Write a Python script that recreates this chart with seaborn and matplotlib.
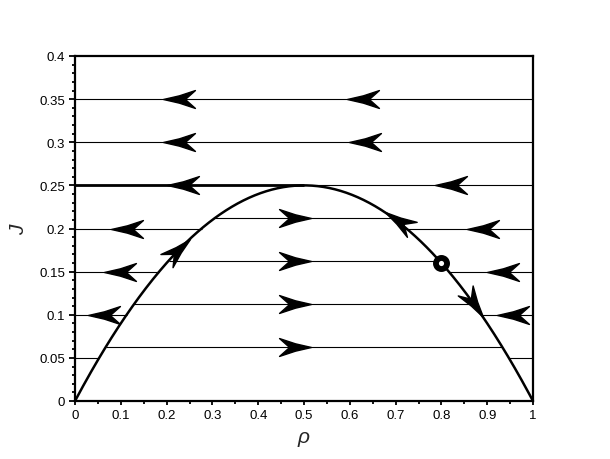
import numpy as np
import matplotlib
matplotlib.use("Agg")
import matplotlib.pyplot as plt
import seaborn as sns
from matplotlib.path import Path
from matplotlib.markers import MarkerStyle
from matplotlib.transforms import Affine2D
from matplotlib.ticker import MultipleLocator

# fundamental diagram J = rho(1-rho)
rho = np.linspace(0, 1, 401)
flux = rho * (1 - rho)

# flux levels outside the parabola (left + right pieces, flow to the left)
outer_J = [0.05, 0.1, 0.15, 0.2]
outer_tip_left = [None, 0.028, 0.063, 0.079]
outer_tip_right = [None, 0.921, 0.900, 0.856]
# flux levels above the maximum (whole width, flow to the left)
full_J = [0.25, 0.3, 0.35]
full_tips = [[0.201, 0.786], [0.192, 0.598], [0.192, 0.594]]
# flux levels inside the parabola (flow to the right)
inner_J = [0.0625, 0.1125, 0.1625, 0.2125]
inner_tip = 0.515
# arrows along the curve: (rho at tip, direction in rho)
curve_tips = [(0.251, 1), (0.677, -1), (0.891, 1)]
fixed_rho, fixed_J = 0.8, 0.16

xticks = [0, 0.1, 0.2, 0.3, 0.4, 0.5, 0.6, 0.7, 0.8, 0.9, 1]
xlabels = ["0", "0.1", "0.2", "0.3", "0.4", "0.5", "0.6", "0.7", "0.8", "0.9", "1"]
yticks = [0, 0.05, 0.1, 0.15, 0.2, 0.25, 0.3, 0.35, 0.4]
ylabels = ["0", "0.05", "0.1", "0.15", "0.2", "0.25", "0.3", "0.35", "0.4"]

sns.set_style("ticks")
plt.rcParams['font.family'] = ['Liberation Sans', 'DejaVu Sans']

fig = plt.figure(figsize=(6.1, 4.6), dpi=100)
ax = fig.add_axes([75 / 610, 1 - 402 / 460, 458 / 610, 345 / 460])
ax.set_xlim(0, 1)
ax.set_ylim(0, 0.4)

# arrow head shape, tip at origin, pointing +x
verts = [(0, 0), (-1.0, 0.23), (-2, 0.56), (-1.37, 0), (-2, -0.56), (-1.0, -0.23), (0, 0)]
codes = [Path.MOVETO] + [Path.LINETO] * 5 + [Path.CLOSEPOLY]
head = Path(verts, codes)


def arrow(x, y, angle):
    m = MarkerStyle(head, transform=Affine2D().rotate_deg(angle))
    ax.plot([x], [y], marker=m, markersize=46, color="black", linestyle="none", zorder=5)


thin = 0.8
for J, tl, tr in zip(outer_J, outer_tip_left, outer_tip_right):
    a = 0.5 - np.sqrt(0.25 - J)
    b = 0.5 + np.sqrt(0.25 - J)
    ax.hlines(J, 0, a, color="black", lw=thin)
    ax.hlines(J, b, 1, color="black", lw=thin)
    if tl is not None:
        arrow(tl, J, 180)
        arrow(tr, J, 180)

for J, tips in zip(full_J, full_tips):
    ax.hlines(J, 0, 1, color="black", lw=thin)
    for t in tips:
        arrow(t, J, 180)
ax.hlines(full_J[0], 0, 0.5, color="black", lw=2.0)

for J in inner_J:
    a = 0.5 - np.sqrt(0.25 - J)
    b = 0.5 + np.sqrt(0.25 - J)
    ax.hlines(J, a, b, color="black", lw=thin)
    arrow(inner_tip, J, 0)

sns.lineplot(x=rho, y=flux, color="black", lw=1.8, ax=ax, sort=False)

for r, d in curve_tips:
    p0 = ax.transData.transform((r, r * (1 - r)))
    r2 = r + d * 0.01
    p1 = ax.transData.transform((r2, r2 * (1 - r2)))
    ang = np.degrees(np.arctan2(p1[1] - p0[1], p1[0] - p0[0]))
    arrow(r, r * (1 - r), ang)

ax.plot([fixed_rho], [fixed_J], marker="o", markersize=8, mfc="white",
        mec="black", mew=4.2, linestyle="none", zorder=6)

for s in ax.spines.values():
    s.set_linewidth(1.6)
    s.set_color("black")

ax.set_xticks(xticks)
ax.set_xticklabels(xlabels)
ax.set_yticks(yticks)
ax.set_yticklabels(ylabels)
ax.xaxis.set_minor_locator(MultipleLocator(0.05))
ax.yaxis.set_minor_locator(MultipleLocator(0.01))
ax.set_xlim(0, 1)
ax.set_ylim(0, 0.4)
ax.tick_params(axis="both", which="major", direction="out", length=4, width=1.3,
               labelsize=9.5, colors="black", pad=3)
ax.tick_params(axis="both", which="minor", direction="out", length=2, width=1.3, colors="black")
ax.tick_params(axis="x", which="major", length=3)

ax.set_xlabel("ρ", fontsize=15, style="italic", labelpad=4)
ax.set_ylabel("J", fontsize=15, style="italic", labelpad=8)

fig.savefig("out.png", dpi=100)
